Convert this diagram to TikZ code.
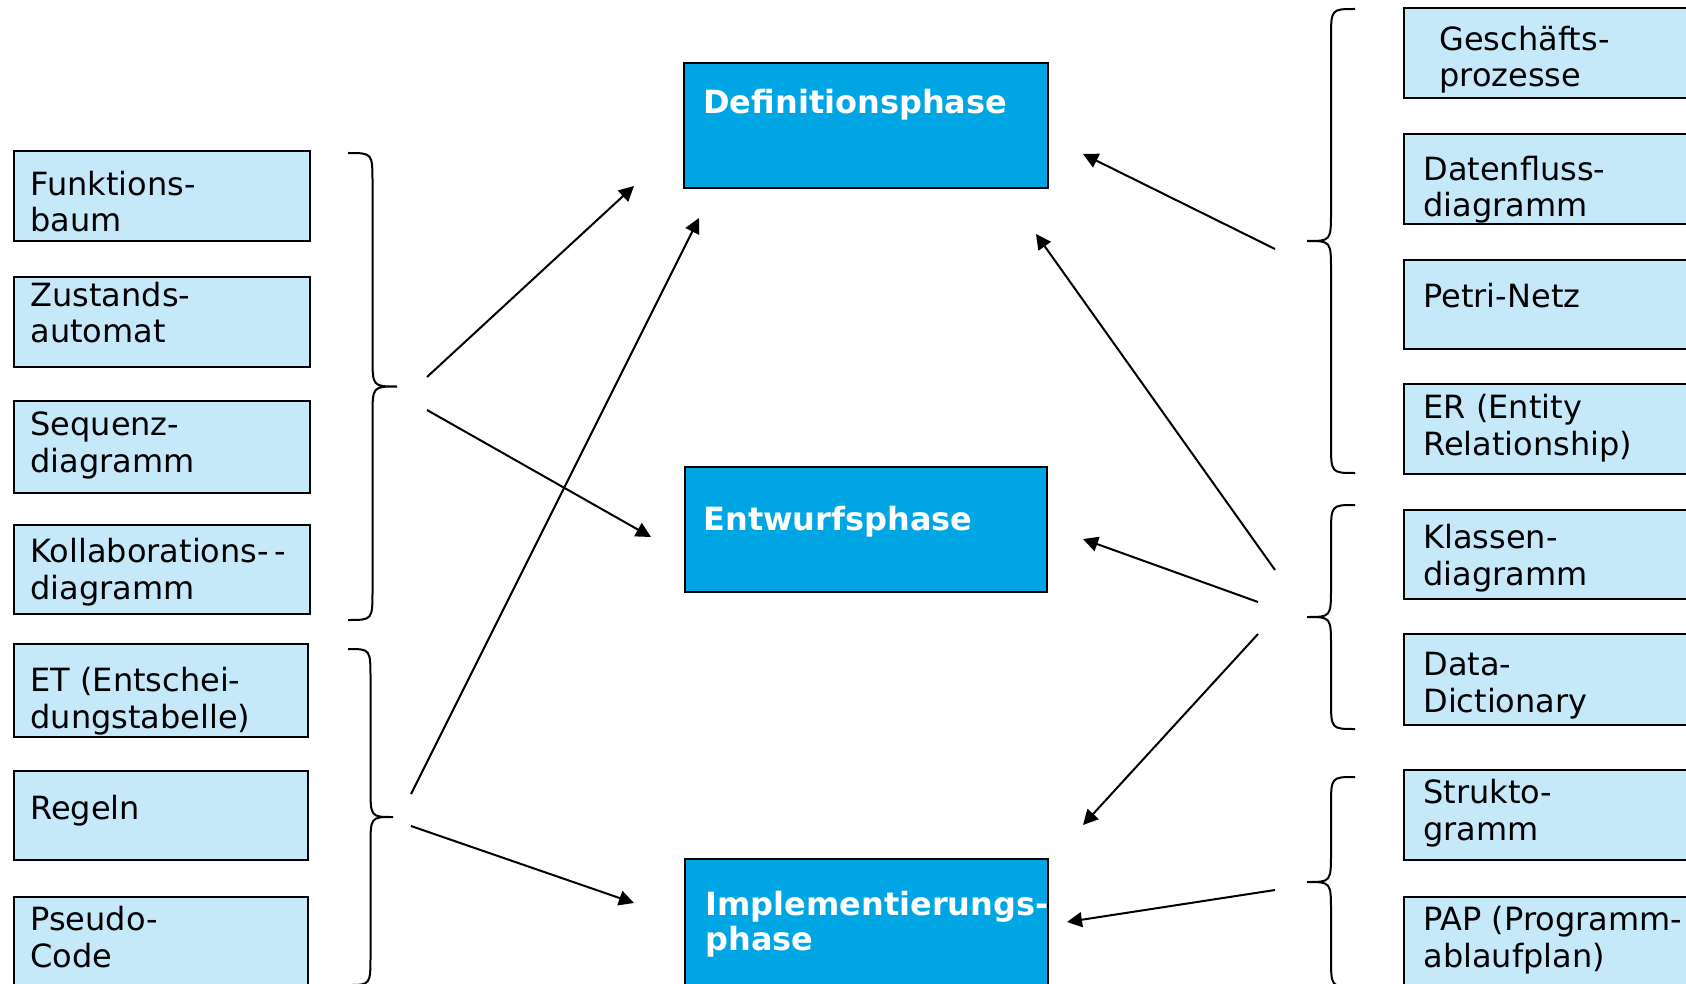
\documentclass[tikz,border=0pt]{standalone}
\usepackage{fontspec}
\setmainfont{DejaVu Sans}
\usetikzlibrary{arrows.meta}

\definecolor{hellblau}{RGB}{198,233,250}
\definecolor{phasenblau}{RGB}{0,166,228}

% geschweifte Klammer: Enden x, Spitze x, oben y, unten y
\newcommand{\klammer}[4]{%
  \draw[line width=1pt] (#1,#3) .. controls ({(#1+#2)/2},#3) .. ({(#1+#2)/2},{#3+30})
    -- ({(#1+#2)/2},{(#3+#4)/2-30}) .. controls ({(#1+#2)/2},{(#3+#4)/2}) .. (#2,{(#3+#4)/2})
    .. controls ({(#1+#2)/2},{(#3+#4)/2}) .. ({(#1+#2)/2},{(#3+#4)/2+30})
    -- ({(#1+#2)/2},{#4-30}) .. controls ({(#1+#2)/2},#4) .. (#1,#4);}

\begin{document}
\begin{tikzpicture}[x=0.5pt, y=-0.5pt,
  methode/.style={draw, line width=1.2pt, fill=hellblau, anchor=north west, inner sep=0},
  phase/.style={draw, line width=1.2pt, fill=phasenblau, anchor=north west, inner sep=0},
  mtext/.style={anchor=base west, align=left, inner sep=0, font=\fontsize{16}{18.3}\selectfont},
  ptext/.style={anchor=base west, align=left, inner sep=0, text=white, font=\fontsize{16}{17.5}\selectfont\bfseries},
  pfeil/.style={line width=1pt, -{Triangle[length=7.5pt,width=7.5pt]}}]
  \useasboundingbox (0,0) rectangle (1686,984);
  \clip (0,0) rectangle (1686,984);

%linke Seite
  \node[methode, minimum width=148pt, minimum height=45pt] (funk) at (13,150) {};
  \node[methode, minimum width=148pt, minimum height=45pt] (zust) at (13,276) {};
  \node[methode, minimum width=148pt, minimum height=46pt] (seq) at (13,400) {};
  \node[methode, minimum width=148pt, minimum height=44.5pt] (koll) at (13,524) {};
  \node[methode, minimum width=147pt, minimum height=46.5pt] (et) at (13,643) {};
  \node[methode, minimum width=147pt, minimum height=44.5pt] (regeln) at (13,770) {};
  \node[methode, minimum width=147pt, minimum height=50pt] (pseudo) at (13,896) {};

  % base = Grundlinie der letzten Zeile
  \node[mtext] (funk-t) at (30,232) {Funktions-\\baum};
  \node[mtext] (zust-t) at (30,343) {Zustands-\\automat};
  \node[mtext] (seq-t) at (30,472) {Sequenz-\\diagramm};
  \node[mtext] (koll-t) at (30,599) {Kollaborations-\,-\\diagramm};
  \node[mtext] (et-t) at (30,728) {ET (Entschei-\\dungstabelle)};
  \node[mtext] (regeln-t) at (30,819) {Regeln};
  \node[mtext] (pseudo-t) at (30,967) {Pseudo-\\Code};

  \klammer{348}{397}{153}{620}
  \klammer{348}{393}{649}{985}

%Phasen
  \node[phase, minimum width=182pt, minimum height=62.5pt] (defi) at (683,62) {};
  \node[phase, minimum width=181pt, minimum height=62.5pt] (entw) at (684,466) {};
  \node[phase, minimum width=181.5pt, minimum height=75pt] (impl) at (684,858) {};

  \node[ptext] (defi-t) at (703,114) {Definitionsphase};
  \node[ptext] (entw-t) at (703,530) {Entwurfsphase};
  \node[ptext] (impl-t) at (705,950) {Implementierungs-\\phase};

%rechte Seite
  \node[methode, minimum width=160pt, minimum height=45pt] (gesch) at (1403,7) {};
  \node[methode, minimum width=160pt, minimum height=45pt] (daten) at (1403,133) {};
  \node[methode, minimum width=160pt, minimum height=44.5pt] (petri) at (1403,259) {};
  \node[methode, minimum width=160pt, minimum height=45pt] (er) at (1403,383) {};
  \node[methode, minimum width=160pt, minimum height=44.5pt] (klassen) at (1403,509) {};
  \node[methode, minimum width=160pt, minimum height=45.5pt] (dict) at (1403,633) {};
  \node[methode, minimum width=160pt, minimum height=45pt] (strukto) at (1403,769) {};
  \node[methode, minimum width=160pt, minimum height=50pt] (pap) at (1403,896) {};

  \node[mtext] (gesch-t) at (1439,87) {Geschäfts-\\prozesse};
  \node[mtext] (daten-t) at (1423,217) {Datenfluss-\\diagramm};
  \node[mtext] (petri-t) at (1423,307) {Petri-Netz};
  \node[mtext] (er-t) at (1423,455) {ER (Entity\\Relationship)};
  \node[mtext] (klassen-t) at (1423,585) {Klassen-\\diagramm};
  \node[mtext] (dict-t) at (1423,712) {Data-\\Dictionary};
  \node[mtext] (strukto-t) at (1423,840) {Strukto-\\gramm};
  \node[mtext] (pap-t) at (1423,967) {PAP (Programm-\\ablaufplan)};

  \klammer{1355}{1307}{9}{473}
  \klammer{1355}{1307}{505}{729}
  \klammer{1355}{1307}{777}{987}

%Pfeile
  \coordinate (l1) at (427,377);
  \coordinate (l2) at (427,410);
  \coordinate (l3) at (411,794);
  \coordinate (l4) at (411,826);
  \coordinate (r1) at (1275,249);
  \coordinate (r2) at (1275,570);
  \coordinate (r3) at (1258,602);
  \coordinate (r4) at (1258,634);
  \coordinate (r5) at (1275,890);
  \coordinate (defi-l) at (634,186);
  \coordinate (defi-u) at (699,218);
  \coordinate (defi-r) at (1083,154);
  \coordinate (defi-ru) at (1036,234);
  \coordinate (entw-l) at (651,537);
  \coordinate (entw-r) at (1083,539);
  \coordinate (impl-l) at (634,903);
  \coordinate (impl-ro) at (1083,825);
  \coordinate (impl-r) at (1067,922);

  \draw[pfeil] (l1) -- (defi-l);
  \draw[pfeil] (l2) -- (entw-l);
  \draw[pfeil] (l3) -- (defi-u);
  \draw[pfeil] (l4) -- (impl-l);
  \draw[pfeil] (r1) -- (defi-r);
  \draw[pfeil] (r2) -- (defi-ru);
  \draw[pfeil] (r3) -- (entw-r);
  \draw[pfeil] (r4) -- (impl-ro);
  \draw[pfeil] (r5) -- (impl-r);
\end{tikzpicture}
\end{document}
